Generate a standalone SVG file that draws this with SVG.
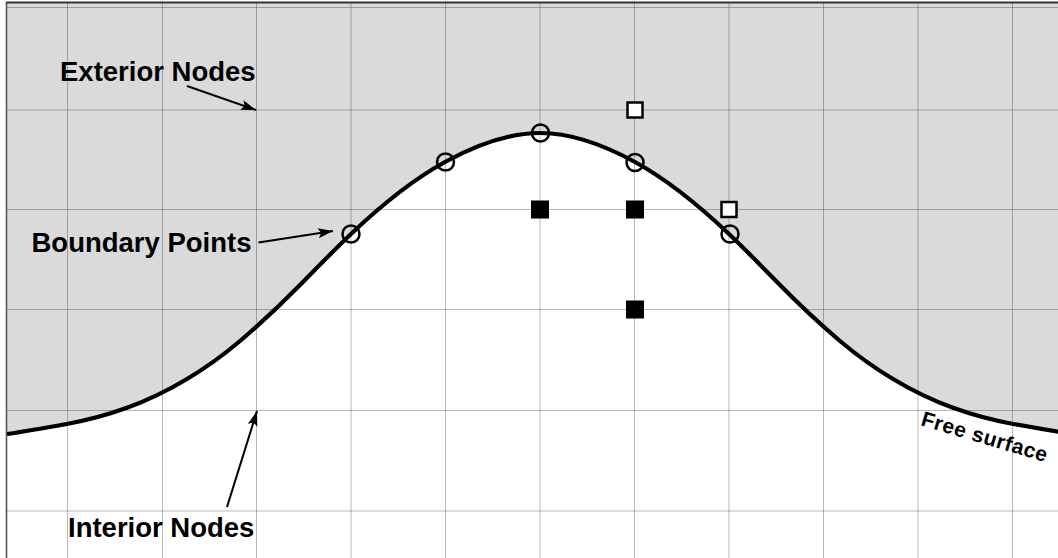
<svg xmlns="http://www.w3.org/2000/svg" width="1058" height="558" viewBox="0 0 1058 558">
  <style>
    .grid line { stroke: #000; stroke-opacity: 0.28; stroke-width: 1; }
    .bp { fill: none; stroke: #000; stroke-width: 2.5; }
    .ext { fill: #fff; stroke: #000; stroke-width: 2.5; }
    .int { fill: #000; }
    .lbl { font-family: "Liberation Sans", Arial, Helvetica, sans-serif; font-weight: bold; font-size: 27.5px; fill: #000; }
    .fs { font-family: "Liberation Sans", Arial, Helvetica, sans-serif; font-weight: bold; font-size: 21px; letter-spacing: 0.5px; fill: #000; }
    .arrow { stroke: #000; stroke-width: 2; fill: none; }
  </style>
  <defs>
    <marker id="ah" markerUnits="userSpaceOnUse" markerWidth="17" markerHeight="12" refX="15" refY="5" orient="auto">
      <path d="M0,0 L15,5 L0,10 L3,5 Z" fill="#000"/>
    </marker>
    <path id="surf" d="M7,434 C27.33,430.95 47.67,427.36 68,423.7 C87.67,420.16 107.33,414.88 127,407.8 C147,400.6 167,391 187,379 C204.67,368.4 222.33,356.02 240,341 C260,324 280,305.4 300,285 C317,267.66 334,250.15 351,234 C382.33,204.23 413.67,179.23 445,162 C476.67,144.58 508.33,133 540,133 C571.67,133 603.33,144.58 635,162 C666.33,179.23 697.67,204.23 729,234 C746,250.15 763,267.66 780,285 C800,305.4 820,324 840,341 C857.67,356.02 875.33,368.4 893,379 C913,391 933,400.6 953,407.8 C972.67,414.88 992.33,420.16 1012,423.7 C1032.33,427.36 1052.67,430.95 1073,434"/>
  </defs>
  <rect x="0" y="0" width="1058" height="558" fill="#fff"/>
  <g id="exterior-region">
    <path d="M7,434 C27.33,430.95 47.67,427.36 68,423.7 C87.67,420.16 107.33,414.88 127,407.8 C147,400.6 167,391 187,379 C204.67,368.4 222.33,356.02 240,341 C260,324 280,305.4 300,285 C317,267.66 334,250.15 351,234 C382.33,204.23 413.67,179.23 445,162 C476.67,144.58 508.33,133 540,133 C571.67,133 603.33,144.58 635,162 C666.33,179.23 697.67,204.23 729,234 C746,250.15 763,267.66 780,285 C800,305.4 820,324 840,341 C857.67,356.02 875.33,368.4 893,379 C913,391 933,400.6 953,407.8 C972.67,414.88 992.33,420.16 1012,423.7 C1032.33,427.36 1052.67,430.95 1073,434 L1073,3 L7,3 Z" fill="#dadada"/>
  </g>
  <g id="grid" class="grid">
    <line x1="67.5" y1="3" x2="67.5" y2="558"/>
    <line x1="162.5" y1="3" x2="162.5" y2="558"/>
    <line x1="256.5" y1="3" x2="256.5" y2="558"/>
    <line x1="351" y1="3" x2="351" y2="558"/>
    <line x1="445.5" y1="3" x2="445.5" y2="558"/>
    <line x1="540" y1="3" x2="540" y2="558"/>
    <line x1="634.5" y1="3" x2="634.5" y2="558"/>
    <line x1="729" y1="3" x2="729" y2="558"/>
    <line x1="823.5" y1="3" x2="823.5" y2="558"/>
    <line x1="918" y1="3" x2="918" y2="558"/>
    <line x1="1012.5" y1="3" x2="1012.5" y2="558"/>
    <line x1="7" y1="7.5" x2="1058" y2="7.5"/>
    <line x1="7" y1="110" x2="1058" y2="110"/>
    <line x1="7" y1="209.5" x2="1058" y2="209.5"/>
    <line x1="7" y1="309.5" x2="1058" y2="309.5"/>
    <line x1="7" y1="410.5" x2="1058" y2="410.5"/>
    <line x1="7" y1="511" x2="1058" y2="511"/>
  </g>
  <g id="frame">
    <line x1="6.5" y1="2" x2="6.5" y2="558" stroke="#555" stroke-width="1.6"/>
    <line x1="6" y1="2.5" x2="1058" y2="2.5" stroke="#333" stroke-width="2"/>
  </g>
  <g id="free-surface">
    <use href="#surf" fill="none" stroke="#000" stroke-width="4.2"/>
    <text class="fs" transform="translate(920,425) rotate(16.5)">Free surface</text>
  </g>
  <g id="boundary-points">
    <g id="bp1"><circle class="bp" cx="351" cy="234" r="8.5"/></g>
    <g id="bp2"><circle class="bp" cx="445.5" cy="162" r="8.5"/></g>
    <g id="bp3"><circle class="bp" cx="540.5" cy="133" r="8.5"/></g>
    <g id="bp4"><circle class="bp" cx="635" cy="162.5" r="8.5"/></g>
    <g id="bp5"><circle class="bp" cx="730" cy="234" r="8.5"/></g>
  </g>
  <g id="exterior-nodes">
    <g id="ex1"><rect class="ext" x="627.5" y="102.5" width="15" height="15"/></g>
    <g id="ex2"><rect class="ext" x="721.5" y="202" width="15" height="15"/></g>
  </g>
  <g id="interior-nodes">
    <g id="in1"><rect class="int" x="531" y="200.5" width="18" height="18"/></g>
    <g id="in2"><rect class="int" x="626" y="200.5" width="18" height="18"/></g>
    <g id="in3"><rect class="int" x="626" y="300.5" width="18" height="18"/></g>
  </g>
  <g id="labels">
    <g id="label-exterior"><text class="lbl" x="60" y="80.5">Exterior Nodes</text></g>
    <g id="label-boundary"><text class="lbl" x="31.5" y="251.5">Boundary Points</text></g>
    <g id="label-interior"><text class="lbl" x="68" y="536.5">Interior Nodes</text></g>
  </g>
  <g id="connectors">
    <line class="arrow" x1="187" y1="86" x2="256" y2="110" marker-end="url(#ah)"/>
    <line class="arrow" x1="258.5" y1="242.5" x2="333" y2="231" marker-end="url(#ah)"/>
    <line class="arrow" x1="227" y1="507" x2="257" y2="411" marker-end="url(#ah)"/>
  </g>
</svg>
